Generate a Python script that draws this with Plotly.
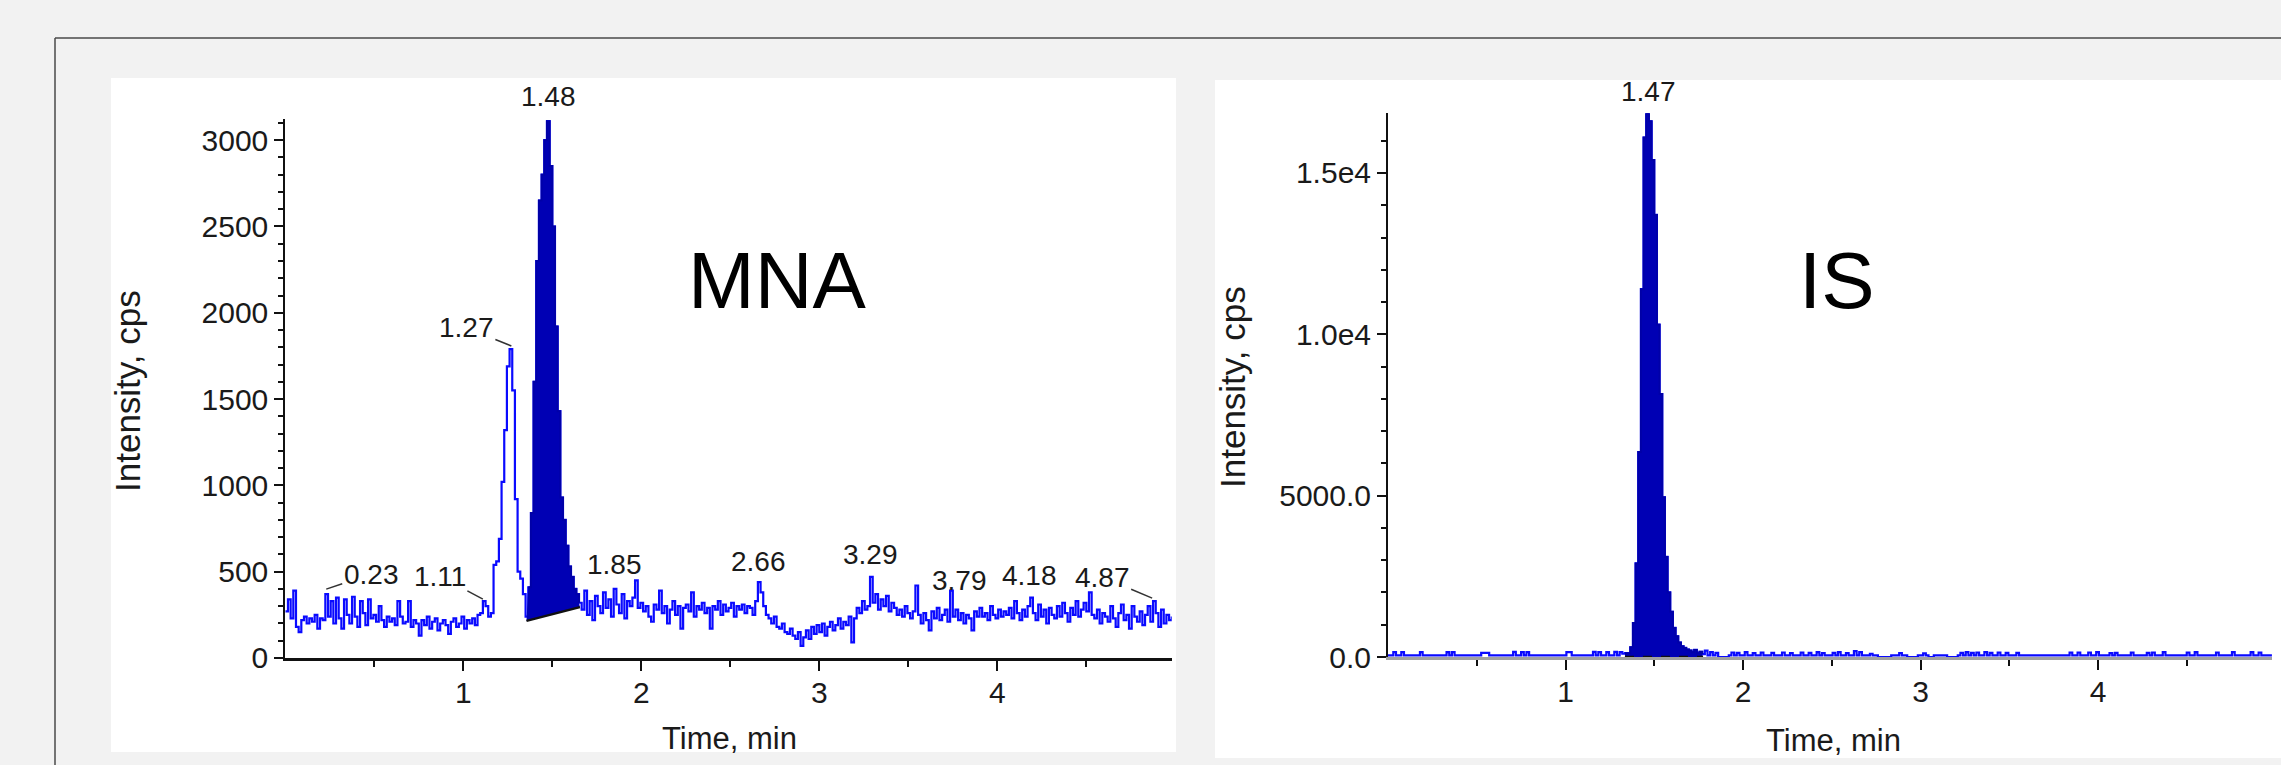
import plotly.graph_objects as go

# ---------------- data ----------------
SCAN_MIN = 0.015  # scan interval, minutes

mna_cps = [
    270, 340, 230, 390, 180, 150, 220, 240, 200, 230,
    210, 250, 170, 230, 220, 370, 240, 330, 200, 350,
    230, 170, 340, 250, 200, 355, 240, 180, 330, 260,
    190, 340, 230, 250, 210, 300, 220, 180, 240, 210,
    230, 190, 330, 240, 200, 210, 330, 180, 220, 200,
    130, 220, 190, 240, 170, 210, 230, 160, 200, 220,
    190, 140, 210, 230, 180, 200, 240, 170, 220, 200,
    230, 190, 250, 260, 330, 300, 240, 260, 540, 560,
    690, 1020, 1320, 1690, 1790, 1550, 920, 500, 460, 370,
    240, 410, 840, 1600, 2300, 2650, 2800, 3000, 3110, 2850,
    2500, 1920, 1430, 930, 800, 650, 530, 470, 400, 370,
    320, 280, 390, 250, 330, 220, 360, 300, 260, 380,
    290, 340, 240, 400, 310, 260, 370, 230, 330, 300,
    350, 450, 290, 320, 270, 300, 240, 210, 310, 280,
    390, 260, 300, 200, 280, 330, 250, 300, 170, 290,
    310, 270, 380, 240, 300, 280, 320, 260, 290, 170,
    300, 280, 330, 250, 310, 270, 290, 320, 240, 300,
    280, 310, 260, 300, 290, 250, 330, 440, 380, 300,
    250, 230, 200, 240, 180, 170, 200, 150, 140, 170,
    130, 110, 150, 70, 120, 160, 110, 180, 140, 190,
    150, 200, 130, 180, 210, 160, 190, 230, 170, 210,
    190, 240, 90, 230, 290, 260, 330, 280, 300, 470,
    320, 370, 280, 340, 300, 360, 270, 320, 290, 250,
    280, 240, 300, 260, 230, 270, 420, 250, 200, 260,
    220, 160, 270, 230, 290, 220, 250, 280, 210, 390,
    240, 280, 220, 260, 200, 250, 230, 160, 270, 240,
    290, 240, 260, 220, 300, 250, 230, 280, 240, 270,
    250, 290, 230, 330, 260, 220, 280, 240, 300, 350,
    260, 220, 310, 240, 280, 200, 290, 250, 230, 300,
    240, 320, 260, 210, 290, 250, 330, 240, 280, 320,
    270, 380, 250, 230, 280, 200, 260, 240, 210, 300,
    230, 180, 260, 310, 220, 250, 170, 300, 240, 210,
    270, 190, 250, 300, 210, 330, 260, 180, 280, 200,
    250, 220, 240,
]

is_cps = [
    50, 50, 150, 50, 50, 150, 50, 50, 50, 50,
    50, 50, 150, 50, 50, 50, 50, 50, 50, 50,
    50, 50, 150, 50, 150, 50, 50, 50, 50, 50,
    50, 50, 50, 50, 50, 130, 130, 130, 50, 50,
    50, 50, 50, 50, 50, 50, 50, 160, 50, 50,
    150, 50, 150, 50, 50, 50, 50, 50, 50, 50,
    50, 50, 50, 50, 50, 50, 50, 150, 150, 50,
    50, 50, 50, 50, 50, 50, 50, 160, 50, 150,
    50, 50, 150, 50, 50, 160, 50, 150, 100, 120,
    120, 300, 1050, 2900, 6350, 11400, 16100, 16850, 16600, 15400,
    13700, 10300, 8150, 4950, 3100, 2000, 1400, 900, 640, 450,
    330, 280, 230, 200, 150, 220, 120, 160, 90, 200,
    50, 150, 50, 130, 0, 0, 0, 0, 50, 140,
    50, 130, 50, 50, 150, 50, 50, 120, 50, 50,
    140, 50, 50, 50, 130, 50, 50, 50, 140, 50,
    50, 120, 50, 50, 50, 140, 50, 50, 130, 50,
    50, 150, 50, 120, 50, 50, 50, 130, 50, 150,
    50, 50, 120, 50, 50, 180, 50, 150, 50, 50,
    50, 100, 50, 50, 0, 0, 0, 0, 0, 50,
    50, 50, 120, 50, 50, 0, 0, 0, 0, 50,
    50, 110, 50, 0, 0, 50, 50, 50, 50, 50,
    0, 0, 0, 0, 50, 130, 50, 150, 50, 130,
    50, 140, 50, 50, 150, 50, 130, 50, 50, 140,
    50, 50, 130, 50, 50, 50, 130, 50, 50, 50,
    50, 50, 50, 50, 50, 50, 50, 50, 50, 50,
    50, 50, 50, 50, 50, 50, 140, 50, 50, 140,
    50, 50, 50, 140, 50, 50, 150, 50, 50, 50,
    50, 120, 50, 130, 50, 50, 50, 50, 50, 140,
    50, 50, 50, 50, 50, 130, 50, 140, 50, 50,
    50, 150, 50, 50, 50, 50, 50, 50, 50, 50,
    140, 50, 50, 150, 50, 50, 50, 50, 50, 50,
    50, 140, 50, 50, 50, 50, 50, 150, 50, 50,
    50, 50, 50, 50, 150, 50, 50, 140, 50, 50,
    50, 50, 50,
]

time_min = [round(i * SCAN_MIN, 3) for i in range(len(mna_cps))]

# integration baselines (start/end time, cps)
mna_base_t = [1.355, 1.655]
mna_base_y = [215, 295]
is_base_t = [1.335, 1.775]
is_base_y = [0, 0]

# peak labels
mna_labels = ["0.23", "1.11", "1.27", "1.48", "1.85", "2.66", "3.29", "3.79", "4.18", "4.87"]
is_labels = ["1.47"]

x_ticks = [1, 2, 3, 4]
x_minor = [0.5, 1.5, 2.5, 3.5, 4.5]
mna_yticks = [0, 500, 1000, 1500, 2000, 2500, 3000]
is_yticks = [0, 5000, 10000, 15000]
is_yticktext = ["0.0", "5000.0", "1.0e4", "1.5e4"]

# ---------------- styling / layout ----------------
W, H = 2281, 765
FONT = "Liberation Sans, Arial, sans-serif"
TXT = "#1a1a1a"
LINE_BLUE = "#0a0aff"
FILL_BLUE = "#0000b4"


def px(v, total):
    return v / total


fig = go.Figure()


def add_chrom(xa, ya, y, base_t, base_y, base_dash):
    fig.add_trace(go.Scatter(x=time_min, y=y, mode="lines", xaxis=xa, yaxis=ya,
                             line=dict(color=LINE_BLUE, width=2.2, shape="hv"),
                             hoverinfo="skip", showlegend=False))
    fig.add_trace(go.Scatter(x=base_t, y=base_y, mode="lines", xaxis=xa, yaxis=ya,
                             line=dict(color="#111111", width=2.5, dash=base_dash),
                             hoverinfo="skip", showlegend=False))
    sel = [i for i, t in enumerate(time_min) if base_t[0] <= t <= base_t[1]]
    fig.add_trace(go.Scatter(x=[time_min[i] for i in sel], y=[y[i] for i in sel],
                             mode="lines", xaxis=xa, yaxis=ya, fill="tonexty",
                             fillcolor=FILL_BLUE,
                             line=dict(color="#0000a8", width=2, shape="hv"),
                             hoverinfo="skip", showlegend=False))


add_chrom("x", "y", mna_cps, mna_base_t, mna_base_y, "solid")
add_chrom("x2", "y2", is_cps, is_base_t, is_base_y, "dash")

tickfont = dict(family=FONT, size=30, color=TXT)


def xaxis_cfg(domain, linecolor):
    return dict(domain=domain, range=[0, 4.98], showgrid=False, zeroline=False,
                automargin=False,
                showline=True, linecolor=linecolor, linewidth=3, layer="above traces",
                ticks="outside", ticklen=10, tickwidth=2, tickcolor="#111111",
                tickvals=x_ticks, ticktext=[str(v) for v in x_ticks],
                ticklabelstandoff=-4,
                minor=dict(tickvals=x_minor, ticks="outside", ticklen=6,
                           tickwidth=2, tickcolor="#111111"),
                tickfont=tickfont, fixedrange=True)


def yaxis_cfg(domain, rng, tickvals, ticktext, minor_dtick, anchor):
    return dict(domain=domain, range=rng, showgrid=False, zeroline=False,
                automargin=False,
                showline=True, linecolor="#111111", linewidth=2, anchor=anchor,
                ticks="outside", ticklen=9, tickwidth=2, tickcolor="#111111",
                tickvals=tickvals, ticktext=ticktext,
                minor=dict(dtick=minor_dtick, tick0=0, ticks="outside", ticklen=5,
                           tickwidth=1.5, tickcolor="#111111"),
                tickfont=tickfont, fixedrange=True)


# left plot: x 285.3..1171.7 px, y 658 (0) .. (3120)
L_Y0, L_K = 658.0, 0.1726
R_Y0, R_K = 657.0, 0.032267
L_xdom = [px(285.3, W), px(285.3 + 4.98 * 178, W)]
L_ydom = [1 - px(L_Y0, H), 1 - px(L_Y0 - 3120 * L_K, H)]
R_xdom = [px(1388, W), px(1388 + 4.98 * 177.5, W)]
R_ydom = [1 - px(R_Y0, H), 1 - px(R_Y0 - 16850 * R_K, H)]

fig.update_layout(
    template="none",
    width=W, height=H, autosize=False,
    margin=dict(l=0, r=0, t=0, b=0, pad=0, autoexpand=False),
    paper_bgcolor="#f2f2f2", plot_bgcolor="rgba(0,0,0,0)",
    showlegend=False,
    xaxis=xaxis_cfg(L_xdom, "#111111") | dict(anchor="y"),
    yaxis=yaxis_cfg(L_ydom, [0, 3120], mna_yticks, [str(v) for v in mna_yticks], 100, "x"),
    xaxis2=xaxis_cfg(R_xdom, "#a0a0a0") | dict(anchor="y2"),
    yaxis2=yaxis_cfg(R_ydom, [0, 16850], is_yticks, is_yticktext, 1000, "x2"),
)

shapes = [
    # white panels
    dict(type="rect", xref="paper", yref="paper", layer="below",
         x0=px(111, W), x1=px(1176, W), y0=1 - px(752, H), y1=1 - px(78, H),
         fillcolor="white", line=dict(width=0)),
    dict(type="rect", xref="paper", yref="paper", layer="below",
         x0=px(1215, W), x1=1.0, y0=1 - px(758, H), y1=1 - px(80, H),
         fillcolor="white", line=dict(width=0)),
    # outer frame lines
    dict(type="line", xref="paper", yref="paper", layer="below",
         x0=px(55, W), x1=1.0, y0=1 - px(38, H), y1=1 - px(38, H),
         line=dict(color="#4a4a4a", width=1.5)),
    dict(type="line", xref="paper", yref="paper", layer="below",
         x0=px(55, W), x1=px(55, W), y0=0, y1=1 - px(38, H),
         line=dict(color="#4a4a4a", width=1.5)),
]
fig.update_layout(shapes=shapes)

lab_font = dict(family=FONT, size=28, color=TXT)
annotations = []

# labels with leader lines: (label, tip cps, ax, ay)
leader = {"0.23": (399, 45, -15), "1.11": (341, -43, -23),
          "1.27": (1808, -45, -18), "4.87": (347, -50, -21)}
# labels without leader: (anchor cps, pixel shift of text centre)
plain = {"1.48": (3110, 25), "1.85": (544, 0), "2.66": (561, 0), "3.29": (599, 0),
         "3.79": (451, 0), "4.18": (476, 0)}

for lab in mna_labels:
    if lab in leader:
        ty, ax, ay = leader[lab]
        annotations.append(dict(x=float(lab), y=ty, xref="x", yref="y", text=lab,
                                showarrow=True, arrowhead=0, arrowwidth=1.5,
                                arrowcolor="#333333", ax=ax, ay=ay, standoff=0,
                                font=lab_font))
    else:
        yv, shift = plain[lab]
        annotations.append(dict(x=float(lab), y=yv, xref="x", yref="y", yshift=shift,
                                xanchor="center", yanchor="middle",
                                text=lab, showarrow=False, font=lab_font))

for lab in is_labels:
    annotations.append(dict(x=float(lab), y=16850, xref="x2", yref="y2", yshift=22,
                            xanchor="center", yanchor="middle", text=lab,
                            showarrow=False, font=lab_font))

# compound names
big = dict(family=FONT, size=80, color="#000000")
annotations.append(dict(x=px(776.6, W), y=1 - px(280, H), xref="paper", yref="paper",
                        xanchor="center", yanchor="middle",
                        text="MNA", showarrow=False, font=big))
annotations.append(dict(x=px(1836.6, W), y=1 - px(280, H), xref="paper", yref="paper",
                        xanchor="center", yanchor="middle",
                        text="IS", showarrow=False, font=big))

# axis titles
ytitle_font = dict(family=FONT, size=35, color=TXT)
xtitle_font = dict(family=FONT, size=31, color=TXT)
for xc, yc in [(128, 391), (1232, 387)]:
    annotations.append(dict(x=px(xc, W), y=1 - px(yc, H), xref="paper", yref="paper",
                            xanchor="center", yanchor="middle",
                            text="Intensity, cps", textangle=-90, showarrow=False,
                            font=ytitle_font))
for xc, yc in [(729, 738), (1833, 740)]:
    annotations.append(dict(x=px(xc, W), y=1 - px(yc, H), xref="paper", yref="paper",
                            xanchor="center", yanchor="middle",
                            text="Time, min", showarrow=False, font=xtitle_font))

fig.update_layout(annotations=annotations)

fig.write_html("out.html", config={"displayModeBar": False},
               post_script="document.body.style.margin='0';document.body.style.overflow='hidden';")
